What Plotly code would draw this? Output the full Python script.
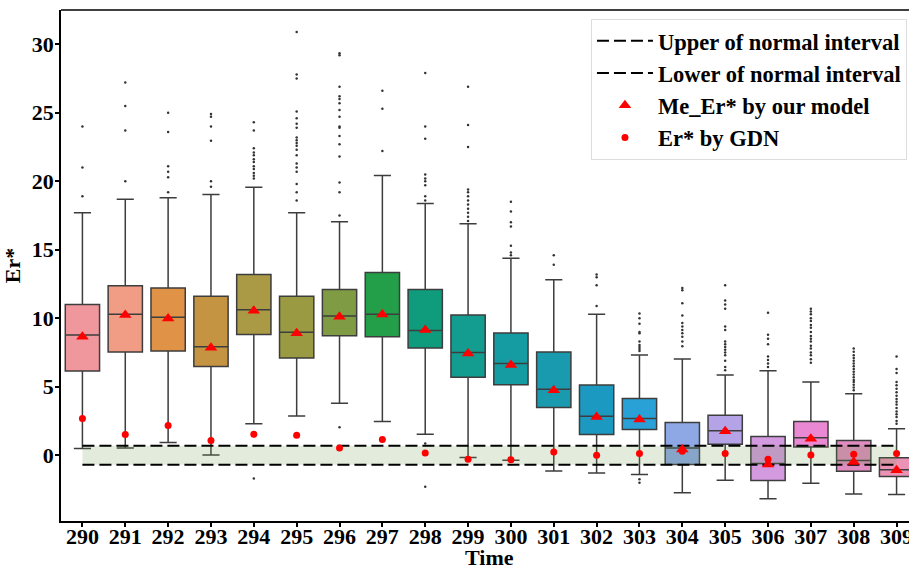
import plotly.graph_objects as go

times = list(range(290, 310))
tick_labels = [str(t) for t in times]

q1 = [6.14, 7.53, 7.60, 6.48, 8.82, 7.09, 8.72, 8.65, 7.82, 5.70,
      5.14, 3.49, 1.51, 1.88, -0.68, 0.80, -1.85, 0.61, -1.17, -1.56]
median = [8.77, 10.30, 10.07, 7.92, 10.62, 8.97, 10.16, 10.30, 9.11, 7.50,
          6.70, 4.82, 2.85, 2.68, 0.53, 1.78, -0.61, 1.27, -0.39, -1.05]
q3 = [11.00, 12.38, 12.20, 11.60, 13.20, 11.60, 12.10, 13.33, 12.10, 10.23,
      8.92, 7.53, 5.12, 4.14, 2.39, 2.92, 1.37, 2.46, 1.07, -0.19]
whisker_low = [0.49, 0.53, 0.93, 0.02, 2.29, 2.87, 3.80, 2.46, 1.53, -0.17,
               -0.37, -1.15, -1.29, -1.41, -2.73, -1.83, -3.17, -2.05, -2.83, -2.87]
whisker_high = [17.70, 18.69, 18.80, 19.03, 19.57, 17.70, 17.05, 20.42, 18.37, 16.90,
                14.38, 12.81, 10.30, 7.31, 7.02, 5.85, 6.16, 5.34, 4.48, 1.93]

me_er_model = [8.65, 10.23, 9.99, 7.84, 10.55, 8.90, 10.10, 10.28, 9.14, 7.43,
               6.58, 4.75, 2.80, 2.61, 0.41, 1.75, -0.68, 1.20, -0.49, -1.10]
er_gdn = [2.68, 1.51, 2.17, 1.07, 1.53, 1.46, 0.53, 1.15, 0.17, -0.29,
          -0.32, 0.24, 0.00, 0.12, 0.29, 0.12, -0.29, 0.02, 0.07, 0.12]

outliers = [
    [18.9, 21.0, 24.0],
    [20.0, 23.7, 25.5, 27.2],
    [19.2, 20.3, 20.7, 21.1, 23.6, 25.0],
    [19.6, 20.0, 22.95, 24.0, 24.7, 24.9],
    [-1.7, 20.2, 20.4, 20.6, 20.9, 21.1, 21.4, 21.6, 21.9, 22.1, 22.4, 23.7, 24.3],
    [18.6, 19.2, 19.8, 20.7, 21.0, 21.3, 21.9, 22.3, 22.6, 22.8, 23.0, 23.2,
     23.9, 24.2, 24.6, 25.1, 27.5, 27.8, 30.9],
    [2.05, 17.5, 19.2, 19.9, 21.8, 22.7, 23.3, 23.9, 24.0, 24.7, 25.2, 25.7,
     26.0, 26.2, 26.9, 29.2, 29.35],
    [22.2, 25.3, 26.6],
    [-2.3, 0.85, 18.6, 18.9, 19.7, 20.0, 20.2, 20.5, 23.1, 24.0, 27.9],
    [17.1, 17.4, 17.7, 18.0, 18.3, 18.6, 18.9, 19.2, 19.4, 22.5, 24.1, 26.9],
    [14.6, 14.8, 15.3, 16.7, 17.0, 17.8, 18.5],
    [13.9, 14.6],
    [10.9, 12.4, 13.0, 13.2],
    [-2.0, -1.75, 7.6, 7.75, 7.9, 8.05, 8.3, 8.9, 9.0, 9.6, 10.0, 10.35],
    [7.95, 8.3, 8.65, 8.9, 9.15, 9.4, 9.65, 10.2, 11.1, 12.05, 12.2],
    [6.2, 6.45, 6.9, 7.3, 7.5, 7.7, 7.9, 8.1, 8.3, 9.15, 9.4, 10.7, 11.0, 11.3, 12.4],
    [6.45, 6.7, 6.95, 7.2, 8.1, 8.5, 8.8, 10.4],
    [6.75, 7.0, 7.3, 7.5, 7.8, 8.0, 8.3, 8.5, 8.7, 9.0, 9.3, 9.5, 9.8, 10.0, 10.3, 10.5, 10.7],
    [4.75, 4.95, 5.15, 5.35, 5.5, 5.7, 5.9, 6.1, 6.3, 6.5, 6.7, 6.9, 7.1, 7.3, 7.55, 7.8],
    [2.3, 2.5, 2.8, 3.0, 3.2, 3.45, 3.7, 3.9, 4.1, 4.35, 4.6, 4.85, 5.1, 5.35, 6.0, 6.3, 7.2],
]

normal_upper = 0.7
normal_lower = -0.7

box_colors = ["#f0979e", "#f19c85", "#e09346", "#c59442", "#ab9a45", "#999a42",
              "#7f9c45", "#239f49", "#0f9c7c", "#139c90", "#159ca2", "#1a9aae",
              "#1b99c1", "#29a0d6", "#8ea8e6", "#b4a3e6", "#d49ae0", "#eb88d4",
              "#e08cc0", "#ec93b5"]

FONT = "Liberation Serif"
edge = "#3d3d3d"

fig = go.Figure()

for i, t in enumerate(times):
    fig.add_trace(go.Box(
        x=[t], q1=[q1[i]], median=[median[i]], q3=[q3[i]],
        lowerfence=[whisker_low[i]], upperfence=[whisker_high[i]],
        width=0.8, whiskerwidth=0.5, fillcolor=box_colors[i],
        line=dict(color=edge, width=1.5), boxpoints=False,
        showlegend=False, hoverinfo="skip",
    ))

# normal interval band
fig.add_trace(go.Scatter(
    x=[times[0], times[-1], times[-1], times[0]],
    y=[normal_upper, normal_upper, normal_lower, normal_lower],
    fill="toself", fillcolor="rgba(110,155,80,0.2)", mode="lines",
    line=dict(width=0), showlegend=False, hoverinfo="skip",
))

ox, oy = [], []
for t, vals in zip(times, outliers):
    ox += [t] * len(vals)
    oy += vals
fig.add_trace(go.Scatter(
    x=ox, y=oy, mode="markers", marker=dict(size=2.5, color="#333333"),
    showlegend=False, hoverinfo="skip",
))

fig.add_trace(go.Scatter(
    x=[times[0], times[-1]], y=[normal_upper, normal_upper], mode="lines",
    line=dict(color="black", width=2, dash="12px,5px"),
    name="Upper of normal interval", legendgroup="a",
))
fig.add_trace(go.Scatter(
    x=[times[0], times[-1]], y=[normal_lower, normal_lower], mode="lines",
    line=dict(color="black", width=2, dash="12px,5px"),
    name="Lower of normal interval", legendgroup="b",
))
fig.add_trace(go.Scatter(
    x=times, y=me_er_model, mode="markers",
    marker=dict(symbol="triangle-up", size=11, color="red"),
    name="Me_Er* by our model", legendgroup="c",
))
fig.add_trace(go.Scatter(
    x=times, y=er_gdn, mode="markers",
    marker=dict(symbol="circle", size=7, color="red"),
    name="Er* by GDN", legendgroup="d",
))

fig.add_shape(type="line", xref="paper", yref="paper", x0=0, x1=1, y0=1, y1=1,
              line=dict(color="black", width=1.5))

tick_font = dict(family=FONT, size=22, color="black", weight="bold")

fig.add_annotation(
    text="Time", xref="paper", yref="paper", x=0.505, y=-0.072,
    xanchor="center", yanchor="middle", showarrow=False, font=tick_font,
)

fig.update_layout(
    width=909, height=565,
    margin=dict(l=61, r=0, t=10, b=44),
    plot_bgcolor="white", paper_bgcolor="white",
    boxmode="overlay",
    font=dict(family=FONT, color="black"),
    showlegend=True,
    legend=dict(
        x=0.9976, y=0.983, xanchor="right", yanchor="top",
        bgcolor="rgba(255,255,255,0.85)", bordercolor="#dddddd", borderwidth=1,
        font=dict(family=FONT, size=22.5, color="black", weight="bold"),
        tracegroupgap=0, itemwidth=56,
    ),
    xaxis=dict(
        range=[289.5, 309.29], tickvals=times, ticktext=tick_labels,
        showline=True, linecolor="black", linewidth=1.5, mirror=False,
        ticks="outside", ticklen=4, tickwidth=1.5, tickcolor="black",
        showgrid=False, zeroline=False, tickfont=tick_font,
        ticklabeloverflow="allow", automargin=False, ticklabelstandoff=-9,
    ),
    yaxis=dict(
        range=[-4.8, 32.5], tickvals=[0, 5, 10, 15, 20, 25, 30],
        showline=True, linecolor="black", linewidth=1.5, mirror=False,
        ticks="outside", ticklen=4, tickwidth=1.5, tickcolor="black",
        showgrid=False, zeroline=False, tickfont=tick_font, automargin=False,
        ticklabelstandoff=-3,
        title=dict(text="Er*", font=tick_font, standoff=8),
    ),
)

fig.write_html("out.html")
